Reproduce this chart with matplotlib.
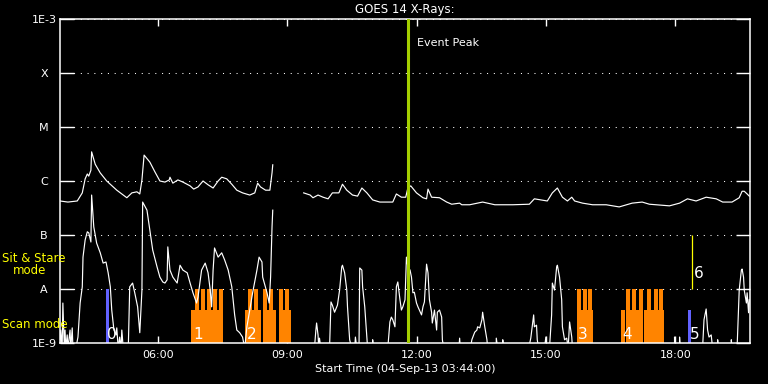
import numpy as np
import matplotlib
matplotlib.use("Agg")
import matplotlib.pyplot as plt
from matplotlib.ticker import NullLocator

# ---------------- data (time = minutes after 03:44:00, flux = log10 W/m^2) ----------------
START_H = 3 + 44 / 60.0

long_t1 = [0, 11, 24, 31, 35, 38, 40, 43, 44, 49, 56, 65, 79, 93, 100, 107, 111, 114, 117, 125, 132, 139,
           146, 152, 153, 157, 164, 171, 181, 186, 192, 199, 206, 213, 220, 225, 232, 239, 246, 254, 264,
           271, 275, 279, 286, 292, 295, 296]
long_f1 = [-6.37, -6.39, -6.37, -6.22, -5.96, -5.87, -5.91, -5.80, -5.46, -5.69, -5.85, -6.00, -6.17, -6.31,
           -6.22, -6.20, -6.24, -5.98, -5.52, -5.65, -5.83, -6.00, -6.02, -5.98, -5.93, -6.04, -5.98, -6.02,
           -6.09, -6.15, -6.11, -6.00, -6.07, -6.13, -6.00, -5.93, -5.96, -6.06, -6.17, -6.22, -6.26, -6.22,
           -6.04, -6.11, -6.17, -6.17, -5.85, -5.70]
long_t2 = [339, 348, 352, 359, 366, 373, 379, 388, 393, 399, 407, 414, 420, 427, 435, 445, 463, 468, 475, 481,
           484, 488, 496, 505, 510, 512, 517, 528, 538, 545, 556, 559, 570, 588, 605, 630, 653, 660, 678, 685,
           692, 699, 706, 712, 716, 727, 741, 760, 778, 796, 810, 820, 848, 862, 873, 885, 899, 913, 922, 935,
           945, 949, 952, 956, 959]
long_f2 = [-6.22, -6.26, -6.31, -6.26, -6.30, -6.33, -6.22, -6.22, -6.06, -6.17, -6.26, -6.28, -6.13, -6.22,
           -6.35, -6.39, -6.39, -6.24, -6.30, -6.30, -6.13, -6.09, -6.22, -6.31, -6.33, -6.15, -6.30, -6.31,
           -6.39, -6.43, -6.41, -6.44, -6.44, -6.39, -6.44, -6.44, -6.43, -6.33, -6.37, -6.22, -6.13, -6.30,
           -6.37, -6.30, -6.37, -6.41, -6.44, -6.44, -6.48, -6.41, -6.39, -6.43, -6.46, -6.41, -6.33, -6.37,
           -6.30, -6.33, -6.39, -6.39, -6.31, -6.19, -6.19, -6.24, -6.28]

short_t1 = [0, 1, 3, 4, 6, 7, 8, 10, 11, 14, 15, 17, 18, 22, 25, 28, 31, 32, 35, 38, 40, 43, 44, 47, 51, 56,
            60, 64, 67, 70, 72, 75, 78, 79, 81, 83, 85, 86, 88, 95, 97, 101, 104, 108, 111, 114, 115, 121, 125,
            129, 135, 139, 143, 146, 149, 150, 153, 157, 163, 167, 171, 177, 181, 185, 190, 192, 197, 202, 206,
            209, 211, 213, 215, 220, 225, 229, 234, 239, 243, 246, 250, 254, 257, 260, 264, 268, 274, 277, 281,
            282, 288, 291, 293, 295, 296]
short_f1 = [-9.0, -8.76, -9.1, -8.26, -9.1, -8.76, -9.1, -8.85, -9.1, -8.76, -9.1, -8.72, -9.1, -9.1, -8.89,
            -8.26, -7.96, -7.41, -7.09, -6.94, -6.96, -7.13, -6.26, -6.85, -7.15, -7.33, -7.52, -7.50, -7.70,
            -7.96, -8.39, -8.76, -8.85, -8.72, -9.1, -8.89, -9.1, -8.76, -9.1, -9.1, -7.96, -7.89, -8.07, -8.33,
            -8.81, -8.02, -6.39, -6.54, -6.91, -7.28, -7.59, -7.78, -7.87, -7.89, -7.83, -7.22, -7.65, -7.78,
            -7.89, -7.56, -7.65, -7.70, -7.89, -8.07, -8.26, -8.15, -7.65, -7.52, -7.70, -8.02, -8.33, -7.65,
            -7.24, -7.41, -7.33, -7.46, -7.65, -7.96, -8.48, -8.76, -8.81, -8.89, -9.1, -8.70, -8.39, -8.07,
            -7.65, -7.41, -7.50, -7.78, -8.07, -8.26, -7.78, -6.85, -6.54]
short_t2 = [334, 354, 356, 357, 359, 360, 361, 363, 375, 377, 379, 382, 385, 386, 389, 392, 393, 396, 399, 400,
            403, 406, 410, 411, 413, 416, 417, 420, 421, 424, 427, 428, 435, 435, 436, 456, 457, 459, 461, 463,
            466, 468, 470, 473, 475, 477, 480, 482, 484, 487, 489, 491, 493, 496, 498, 500, 503, 505, 507, 510,
            512, 514, 517, 518, 521, 524, 525, 528, 531, 532, 534, 555, 556, 557, 571, 573, 577, 580, 581, 584,
            587, 588, 591, 594, 595, 607, 607, 609, 616, 616, 617, 652, 655, 657, 659, 660, 663, 664, 666, 674,
            676, 677, 681, 684, 685, 688, 691, 692, 695, 698, 699, 702, 705, 707, 709, 712, 713, 855, 855, 856,
            862, 862, 863, 894, 896, 899, 901, 903, 906, 908, 915, 915, 916, 934, 934, 935, 942, 945, 948, 949,
            951, 952, 955, 956, 958, 959]
short_f2 = [-9.1, -9.1, -8.76, -8.63, -8.85, -9.1, -8.91, -9.1, -9.1, -8.24, -8.30, -8.43, -8.33, -8.30, -8.02,
            -7.59, -7.56, -7.70, -8.02, -8.33, -8.94, -9.1, -9.1, -8.89, -9.1, -9.1, -7.61, -7.65, -7.96, -8.33,
            -8.89, -9.1, -9.1, -8.94, -9.1, -9.1, -8.94, -8.61, -8.52, -8.57, -8.70, -7.96, -7.87, -8.20, -8.39,
            -8.33, -8.20, -7.41, -7.59, -7.65, -7.78, -8.07, -8.06, -8.26, -8.33, -8.39, -8.48, -8.33, -8.24,
            -7.54, -7.70, -8.20, -8.43, -8.63, -8.39, -8.76, -8.43, -8.39, -8.52, -8.94, -9.1, -9.1, -8.91, -9.1,
            -9.1, -8.94, -8.80, -8.76, -8.70, -8.72, -8.57, -8.43, -8.70, -8.94, -9.1, -9.1, -8.91, -9.1, -9.1,
            -8.94, -9.1, -9.1, -8.91, -8.70, -8.48, -8.70, -8.67, -8.94, -9.1, -9.1, -8.89, -9.1, -9.1, -8.48,
            -7.89, -8.02, -7.59, -7.56, -7.78, -8.20, -8.70, -8.94, -8.91, -9.1, -8.61, -8.89, -9.1, -9.1, -8.89,
            -9.1, -9.1, -8.89, -9.1, -9.1, -8.57, -8.37, -8.76, -8.89, -8.85, -9.1, -9.1, -8.94, -9.1, -9.1, -8.94,
            -9.1, -9.1, -8.02, -7.65, -7.63, -7.78, -8.02, -8.26, -8.07, -8.44, -8.20]

# observations: scan mode (orange) and sit & stare (blue)
scan_low_start = [182, 257, 282, 304, 719, 780, 788, 813]
scan_low_end = [226, 279, 301, 322, 741, 786, 810, 840]
scan_low_level = -8.39
scan_tall_start = [188, 196, 204, 213, 221, 261, 270, 282, 291, 304, 313, 719, 727, 735,
                   788, 796, 805, 817, 826, 834]
scan_tall_dur = 5.6
scan_tall_level = -8.0
sit_start = [64, 874]
sit_end = [68, 878]
sit_level = [-8.0, -8.39]
obs6_time = 880
obs6_range = [-8.0, -7.0]

obs_labels = ["0", "1", "2", "3", "4", "5", "6"]
obs_label_t = [64, 184, 258, 719, 781, 875, 880]

event_peak_t = 484.7

x_ticks_h = [6, 9, 12, 15, 18]
x_tick_labels = ["06:00", "09:00", "12:00", "15:00", "18:00"]
y_tick_exp = [-9, -8, -7, -6, -5, -4, -3]
y_tick_labels = ["1E-9", "A", "B", "C", "M", "X", "1E-3"]


def hrs(t):
    return START_H + np.asarray(t, dtype=float) / 60.0


# ---------------- figure ----------------
W, H = 768, 384
fig = plt.figure(figsize=(W / 100, H / 100), dpi=100, facecolor="black")
ax = fig.add_axes([60 / W, 1 - 343 / H, 690 / W, 324 / H], facecolor="black")
ax.set_yscale("log")
ax.set_xlim(START_H, START_H + 16)
ax.set_ylim(1e-9, 1e-3)

ORANGE = "#ff8400"
BLUE = "#6262ff"

for s, e in zip(scan_low_start, scan_low_end):
    ax.bar(hrs(s), 10 ** scan_low_level - 1e-10, bottom=1e-10, width=(e - s) / 60.0,
           align="edge", color=ORANGE, linewidth=0, zorder=2)
for s in scan_tall_start:
    ax.bar(hrs(s), 10 ** scan_tall_level - 1e-10, bottom=1e-10, width=scan_tall_dur / 60.0,
           align="edge", color=ORANGE, linewidth=0, zorder=2)
for s, e, lv in zip(sit_start, sit_end, sit_level):
    ax.bar(hrs(s), 10 ** lv - 1e-10, bottom=1e-10, width=(e - s) / 60.0,
           align="edge", color=BLUE, linewidth=0, zorder=2)
ax.vlines(hrs(obs6_time), 10 ** obs6_range[0], 10 ** obs6_range[1], color="#ffff00", lw=0.9, zorder=3)

for t, f in [(long_t1, long_f1), (long_t2, long_f2), (short_t1, short_f1), (short_t2, short_f2)]:
    ax.plot(hrs(t), 10 ** np.asarray(f), color="white", lw=0.85, zorder=4)

ax.axvline(hrs(event_peak_t), color="#a4cf00", lw=2.2, zorder=5)
ax.annotate("Event Peak", (hrs(event_peak_t), 10 ** -3.44), xytext=(6.5, 0),
            textcoords="offset points", color="white", fontsize=8, va="center", ha="left", zorder=6)

for lab, t in zip(obs_labels, obs_label_t):
    yv = 10 ** -7.80 if lab == "6" else 10 ** -8.93
    ax.annotate(lab, (hrs(t), yv), xytext=(0.8, 0), textcoords="offset points",
                color="white", fontsize=11, va="baseline", ha="left", zorder=7)

for sp in ax.spines.values():
    sp.set_color("white")
    sp.set_linewidth(1.1)
ax.set_yticks([10.0 ** e for e in y_tick_exp])
ax.set_yticklabels(y_tick_labels)
ax.yaxis.set_minor_locator(NullLocator())
ax.set_xticks(x_ticks_h)
ax.set_xticklabels(x_tick_labels)
ax.xaxis.set_minor_locator(NullLocator())
ax.tick_params(axis="y", which="major", direction="in", length=10, width=1.0, color="white",
               left=True, right=True, labelcolor="white", labelsize=8, pad=11.5)
for lab in ax.get_yticklabels():
    lab.set_horizontalalignment("center")
ax.tick_params(axis="x", which="major", direction="in", length=5, width=1.0, color="white",
               top=True, bottom=True, labelcolor="white", labelsize=8, pad=5)
ax.yaxis.grid(True, which="major", color="white", linestyle=(0, (1, 5.5)), linewidth=0.75)
ax.set_axisbelow(True)

ax.set_title("GOES 14 X-Rays:", color="white", fontsize=8.5, pad=4)
ax.set_xlabel("Start Time (04-Sep-13 03:44:00)", color="white", fontsize=8, labelpad=3)

fig.text(2 / W, 1 - 259 / H, "Sit & Stare", color="#ffff00", fontsize=8.5, ha="left", va="center")
fig.text(13 / W, 1 - 271 / H, "mode", color="#ffff00", fontsize=8.5, ha="left", va="center")
fig.text(2 / W, 1 - 324 / H, "Scan mode", color="#ffff00", fontsize=8.5, ha="left", va="center")

fig.savefig("out.png", dpi=100, facecolor="black")
